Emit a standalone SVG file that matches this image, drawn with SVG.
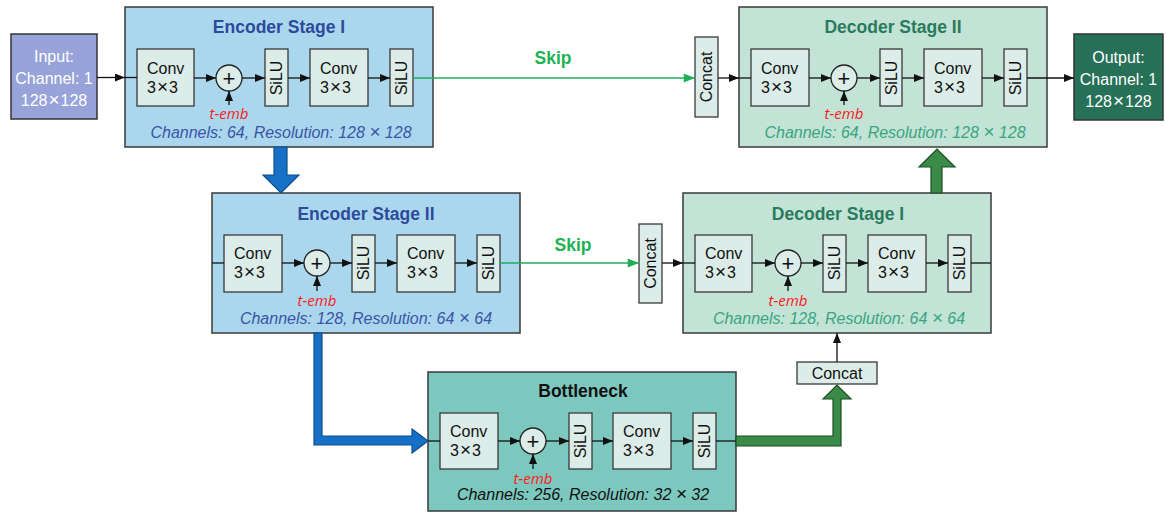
<svg xmlns="http://www.w3.org/2000/svg" width="1166" height="513" viewBox="0 0 1166 513">
  <style>
    .stage { stroke: #3a3a3a; stroke-width: 1.5; }
    .enc { fill: #abd7ee; }
    .dec { fill: #c2e3d6; }
    .bot { fill: #7cc8be; }
    .blk { fill: #dcece8; stroke: #3a3a3a; stroke-width: 1.3; }
    .add { fill: #dcece8; stroke: #222; stroke-width: 1.3; }
    .t { font-family: "Liberation Sans", Arial, sans-serif; font-size: 16px; fill: #111; }
    .x { font-size: 19px; }
    .plus { font-family: "Liberation Sans", Arial, sans-serif; font-size: 22px; fill: #111; text-anchor: middle; }
    .ttl { font-family: "Liberation Sans", Arial, sans-serif; font-size: 17.5px; font-weight: bold; text-anchor: middle; }
    .info { font-family: "Liberation Sans", Arial, sans-serif; font-size: 16px; font-style: italic; text-anchor: middle; }
    .temb { font-family: "Open Sans", "Liberation Sans", sans-serif; font-size: 15px; font-style: italic; fill: #ff1a1a; text-anchor: middle; }
    .io { font-family: "Liberation Sans", Arial, sans-serif; font-size: 16px; fill: #fff; text-anchor: middle; }
    .wire { stroke: #111; stroke-width: 1.3; fill: none; }
    .skip { stroke: #22ad5a; stroke-width: 1.3; fill: none; }
    .skiptxt { font-family: "Liberation Sans", Arial, sans-serif; font-size: 17.5px; font-weight: bold; fill: #1db355; text-anchor: middle; }
    .bluearrow { fill: #1570c6; stroke: #0f4f8e; stroke-width: 1.2; }
    .greenarrow { fill: #3a8a48; stroke: #1e4d25; stroke-width: 1.2; }
  </style>
  <defs>
    <marker id="ah" viewBox="0 0 10 8" refX="10" refY="4" markerWidth="11" markerHeight="8" orient="auto" markerUnits="userSpaceOnUse">
      <path d="M0,0 L10,4 L0,8 z" fill="#111"/>
    </marker>
    <marker id="ahg" viewBox="0 0 10 8" refX="10" refY="4" markerWidth="12" markerHeight="9" orient="auto" markerUnits="userSpaceOnUse">
      <path d="M0,0 L10,4 L0,8 z" fill="#22ad5a"/>
    </marker>
  </defs>

  <!-- Input -->
  <g id="input">
    <rect x="11" y="34" width="86" height="85" fill="#97a3d9" stroke="#333" stroke-width="1.5"/>
    <text class="io" x="54" y="62">Input:</text>
    <text class="io" x="54" y="84">Channel: 1</text>
    <text class="io" x="54" y="106">128<tspan class="x" dx="1">×</tspan><tspan dx="1">128</tspan></text>
  </g>

  <!-- Encoder Stage I -->
  <g id="encoder1">
    <rect class="stage enc" x="125" y="7" width="308" height="140"/>
    <text class="ttl" x="279" y="33" fill="#2d4a9b">Encoder Stage I</text>
    <g id="enc1-conv1"><rect class="blk" x="137" y="49" width="57" height="57"/>
      <text class="t" x="147" y="74">Conv</text><text class="t" x="147" y="93">3<tspan class="x" dx="1">×</tspan><tspan dx="1">3</tspan></text></g>
    <g id="enc1-add"><circle class="add" cx="229" cy="78" r="13"/>
      <text class="plus" x="229" y="85.5">+</text></g>
    <g id="enc1-silu1"><rect class="blk" x="265" y="49" width="23" height="57"/>
      <text class="t" transform="translate(276.5,78) rotate(-90)" text-anchor="middle" dy="0.36em">SiLU</text></g>
    <g id="enc1-conv2"><rect class="blk" x="310" y="49" width="58" height="57"/>
      <text class="t" x="320" y="74">Conv</text><text class="t" x="320" y="93">3<tspan class="x" dx="1">×</tspan><tspan dx="1">3</tspan></text></g>
    <g id="enc1-silu2"><rect class="blk" x="390" y="49" width="23" height="57"/>
      <text class="t" transform="translate(401.5,78) rotate(-90)" text-anchor="middle" dy="0.36em">SiLU</text></g>
    <text class="temb" x="229" y="119">t-emb</text>
    <text class="info" x="281" y="138" fill="#3a55a6">Channels: 64, Resolution: 128 <tspan class="x">×</tspan> 128</text>
  </g>

  <!-- Encoder Stage II -->
  <g id="encoder2">
    <rect class="stage enc" x="212" y="193" width="308" height="140"/>
    <text class="ttl" x="366" y="220" fill="#2d4a9b">Encoder Stage II</text>
    <g id="enc2-conv1"><rect class="blk" x="224" y="235" width="58" height="57"/>
      <text class="t" x="234" y="259">Conv</text><text class="t" x="234" y="278">3<tspan class="x" dx="1">×</tspan><tspan dx="1">3</tspan></text></g>
    <g id="enc2-add"><circle class="add" cx="317" cy="263" r="13"/>
      <text class="plus" x="317" y="270.5">+</text></g>
    <g id="enc2-silu1"><rect class="blk" x="352" y="235" width="23" height="57"/>
      <text class="t" transform="translate(363.5,263) rotate(-90)" text-anchor="middle" dy="0.36em">SiLU</text></g>
    <g id="enc2-conv2"><rect class="blk" x="397" y="235" width="58" height="57"/>
      <text class="t" x="407" y="259">Conv</text><text class="t" x="407" y="278">3<tspan class="x" dx="1">×</tspan><tspan dx="1">3</tspan></text></g>
    <g id="enc2-silu2"><rect class="blk" x="477" y="235" width="23" height="57"/>
      <text class="t" transform="translate(488.5,263) rotate(-90)" text-anchor="middle" dy="0.36em">SiLU</text></g>
    <text class="temb" x="317" y="306">t-emb</text>
    <text class="info" x="366" y="324" fill="#3a55a6">Channels: 128, Resolution: 64 <tspan class="x">×</tspan> 64</text>
  </g>

  <!-- Bottleneck -->
  <g id="bottleneck">
    <rect class="stage bot" x="428" y="372" width="308" height="139"/>
    <text class="ttl" x="583" y="397" fill="#111">Bottleneck</text>
    <g id="bot-conv1"><rect class="blk" x="440" y="413" width="58" height="56"/>
      <text class="t" x="450" y="437">Conv</text><text class="t" x="450" y="456">3<tspan class="x" dx="1">×</tspan><tspan dx="1">3</tspan></text></g>
    <g id="bot-add"><circle class="add" cx="533" cy="441" r="13"/>
      <text class="plus" x="533" y="448.5">+</text></g>
    <g id="bot-silu1"><rect class="blk" x="569" y="413" width="23" height="56"/>
      <text class="t" transform="translate(580.5,441) rotate(-90)" text-anchor="middle" dy="0.36em">SiLU</text></g>
    <g id="bot-conv2"><rect class="blk" x="613" y="413" width="58" height="56"/>
      <text class="t" x="623" y="437">Conv</text><text class="t" x="623" y="456">3<tspan class="x" dx="1">×</tspan><tspan dx="1">3</tspan></text></g>
    <g id="bot-silu2"><rect class="blk" x="693" y="413" width="23" height="56"/>
      <text class="t" transform="translate(704.5,441) rotate(-90)" text-anchor="middle" dy="0.36em">SiLU</text></g>
    <text class="temb" x="533" y="484">t-emb</text>
    <text class="info" x="583" y="500" fill="#111">Channels: 256, Resolution: 32 <tspan class="x">×</tspan> 32</text>
  </g>

  <!-- Decoder Stage I -->
  <g id="decoder1">
    <rect class="stage dec" x="683" y="193" width="308" height="140"/>
    <text class="ttl" x="838" y="220" fill="#2a7a5c">Decoder Stage I</text>
    <g id="dec1-conv1"><rect class="blk" x="695" y="235" width="57" height="57"/>
      <text class="t" x="705" y="259">Conv</text><text class="t" x="705" y="278">3<tspan class="x" dx="1">×</tspan><tspan dx="1">3</tspan></text></g>
    <g id="dec1-add"><circle class="add" cx="788" cy="263" r="13"/>
      <text class="plus" x="788" y="270.5">+</text></g>
    <g id="dec1-silu1"><rect class="blk" x="823" y="235" width="23" height="57"/>
      <text class="t" transform="translate(834.5,263) rotate(-90)" text-anchor="middle" dy="0.36em">SiLU</text></g>
    <g id="dec1-conv2"><rect class="blk" x="868" y="235" width="58" height="57"/>
      <text class="t" x="878" y="259">Conv</text><text class="t" x="878" y="278">3<tspan class="x" dx="1">×</tspan><tspan dx="1">3</tspan></text></g>
    <g id="dec1-silu2"><rect class="blk" x="948" y="235" width="23" height="57"/>
      <text class="t" transform="translate(959.5,263) rotate(-90)" text-anchor="middle" dy="0.36em">SiLU</text></g>
    <text class="temb" x="788" y="306">t-emb</text>
    <text class="info" x="839" y="324" fill="#3aa581">Channels: 128, Resolution: 64 <tspan class="x">×</tspan> 64</text>
  </g>

  <!-- Decoder Stage II -->
  <g id="decoder2">
    <rect class="stage dec" x="739" y="7" width="308" height="140"/>
    <text class="ttl" x="893" y="33" fill="#2a7a5c">Decoder Stage II</text>
    <g id="dec2-conv1"><rect class="blk" x="751" y="49" width="58" height="57"/>
      <text class="t" x="761" y="74">Conv</text><text class="t" x="761" y="93">3<tspan class="x" dx="1">×</tspan><tspan dx="1">3</tspan></text></g>
    <g id="dec2-add"><circle class="add" cx="844" cy="78" r="13"/>
      <text class="plus" x="844" y="85.5">+</text></g>
    <g id="dec2-silu1"><rect class="blk" x="880" y="49" width="22" height="57"/>
      <text class="t" transform="translate(891,78) rotate(-90)" text-anchor="middle" dy="0.36em">SiLU</text></g>
    <g id="dec2-conv2"><rect class="blk" x="924" y="49" width="58" height="57"/>
      <text class="t" x="934" y="74">Conv</text><text class="t" x="934" y="93">3<tspan class="x" dx="1">×</tspan><tspan dx="1">3</tspan></text></g>
    <g id="dec2-silu2"><rect class="blk" x="1004" y="49" width="23" height="57"/>
      <text class="t" transform="translate(1015.5,78) rotate(-90)" text-anchor="middle" dy="0.36em">SiLU</text></g>
    <text class="temb" x="844" y="119">t-emb</text>
    <text class="info" x="895" y="138" fill="#3aa581">Channels: 64, Resolution: 128 <tspan class="x">×</tspan> 128</text>
  </g>

  <!-- Concat blocks -->
  <g id="concat1">
    <rect class="blk" x="695" y="37" width="23" height="80"/>
    <text class="t" transform="translate(706.5,77) rotate(-90)" text-anchor="middle" dy="0.36em">Concat</text>
  </g>
  <g id="concat2">
    <rect class="blk" x="639" y="224" width="23" height="79"/>
    <text class="t" transform="translate(650.5,263.5) rotate(-90)" text-anchor="middle" dy="0.36em">Concat</text>
  </g>
  <g id="concat3">
    <rect class="blk" x="797" y="362" width="80" height="22"/>
    <text class="t" x="837" y="379" text-anchor="middle">Concat</text>
  </g>

  <!-- Output -->
  <g id="output">
    <rect x="1074" y="34" width="89" height="86" fill="#267157" stroke="#333" stroke-width="1.5"/>
    <text class="io" x="1118.5" y="63">Output:</text>
    <text class="io" x="1118.5" y="85">Channel: 1</text>
    <text class="io" x="1118.5" y="107">128<tspan class="x" dx="1">×</tspan><tspan dx="1">128</tspan></text>
  </g>

  <!-- Connectors -->
  <g id="connectors">
    <!-- Encoder Stage I flow -->
    <line class="wire" x1="97" y1="77.5" x2="125" y2="77.5" marker-end="url(#ah)"/>
    <line class="wire" x1="125" y1="77.5" x2="137" y2="77.5"/>
    <line class="wire" x1="194" y1="78" x2="216" y2="78" marker-end="url(#ah)"/>
    <line class="wire" x1="242" y1="78" x2="265" y2="78" marker-end="url(#ah)"/>
    <line class="wire" x1="288" y1="78" x2="310" y2="78" marker-end="url(#ah)"/>
    <line class="wire" x1="368" y1="78" x2="390" y2="78" marker-end="url(#ah)"/>
    <line class="wire" x1="229" y1="105" x2="229" y2="91" marker-end="url(#ah)"/>
    <line class="skip" x1="413" y1="78" x2="695" y2="78" marker-end="url(#ahg)"/>
    <text class="skiptxt" x="553" y="64">Skip</text>

    <!-- Decoder Stage II flow -->
    <line class="wire" x1="718" y1="78" x2="739" y2="78" marker-end="url(#ah)"/>
    <line class="wire" x1="739" y1="78" x2="751" y2="78"/>
    <line class="wire" x1="809" y1="78" x2="831" y2="78" marker-end="url(#ah)"/>
    <line class="wire" x1="857" y1="78" x2="880" y2="78" marker-end="url(#ah)"/>
    <line class="wire" x1="902" y1="78" x2="924" y2="78" marker-end="url(#ah)"/>
    <line class="wire" x1="982" y1="78" x2="1004" y2="78" marker-end="url(#ah)"/>
    <line class="wire" x1="844" y1="105" x2="844" y2="91" marker-end="url(#ah)"/>
    <line class="wire" x1="1027" y1="78" x2="1074" y2="78" marker-end="url(#ah)"/>

    <!-- Encoder Stage II flow -->
    <line class="wire" x1="212" y1="263" x2="224" y2="263"/>
    <line class="wire" x1="282" y1="263" x2="304" y2="263" marker-end="url(#ah)"/>
    <line class="wire" x1="330" y1="263" x2="352" y2="263" marker-end="url(#ah)"/>
    <line class="wire" x1="375" y1="263" x2="397" y2="263" marker-end="url(#ah)"/>
    <line class="wire" x1="455" y1="263" x2="477" y2="263" marker-end="url(#ah)"/>
    <line class="wire" x1="317" y1="291" x2="317" y2="276" marker-end="url(#ah)"/>
    <line class="skip" x1="500" y1="263" x2="639" y2="263" marker-end="url(#ahg)"/>
    <text class="skiptxt" x="573" y="251">Skip</text>

    <!-- Decoder Stage I flow -->
    <line class="wire" x1="662" y1="263" x2="683" y2="263" marker-end="url(#ah)"/>
    <line class="wire" x1="683" y1="263" x2="695" y2="263"/>
    <line class="wire" x1="752" y1="263" x2="775" y2="263" marker-end="url(#ah)"/>
    <line class="wire" x1="801" y1="263" x2="823" y2="263" marker-end="url(#ah)"/>
    <line class="wire" x1="846" y1="263" x2="868" y2="263" marker-end="url(#ah)"/>
    <line class="wire" x1="926" y1="263" x2="948" y2="263" marker-end="url(#ah)"/>
    <line class="wire" x1="971" y1="263" x2="991" y2="263"/>
    <line class="wire" x1="788" y1="291" x2="788" y2="276" marker-end="url(#ah)"/>
    <line class="wire" x1="837" y1="362" x2="837" y2="333" marker-end="url(#ah)"/>

    <!-- Bottleneck flow -->
    <line class="wire" x1="428" y1="441" x2="440" y2="441"/>
    <line class="wire" x1="498" y1="441" x2="520" y2="441" marker-end="url(#ah)"/>
    <line class="wire" x1="546" y1="441" x2="569" y2="441" marker-end="url(#ah)"/>
    <line class="wire" x1="592" y1="441" x2="613" y2="441" marker-end="url(#ah)"/>
    <line class="wire" x1="671" y1="441" x2="693" y2="441" marker-end="url(#ah)"/>
    <line class="wire" x1="716" y1="441" x2="736" y2="441"/>
    <line class="wire" x1="533" y1="469" x2="533" y2="454" marker-end="url(#ah)"/>

    <!-- Down/up-sampling arrows -->
    <polygon class="bluearrow" points="274,147 287,147 287,175 299,175 281,193 263,175 274,175"/>
    <polygon class="bluearrow" points="314,333 322,333 322,436 412,436 412,429 428,441 412,453 412,445 314,445"/>
    <polygon class="greenarrow" points="736,436 833,436 833,399 823,399 837,385 851,399 841,399 841,446 736,446"/>
    <polygon class="greenarrow" points="931,193 931,167 919,167 937,149 955,167 942,167 942,193"/>
  </g>
</svg>
